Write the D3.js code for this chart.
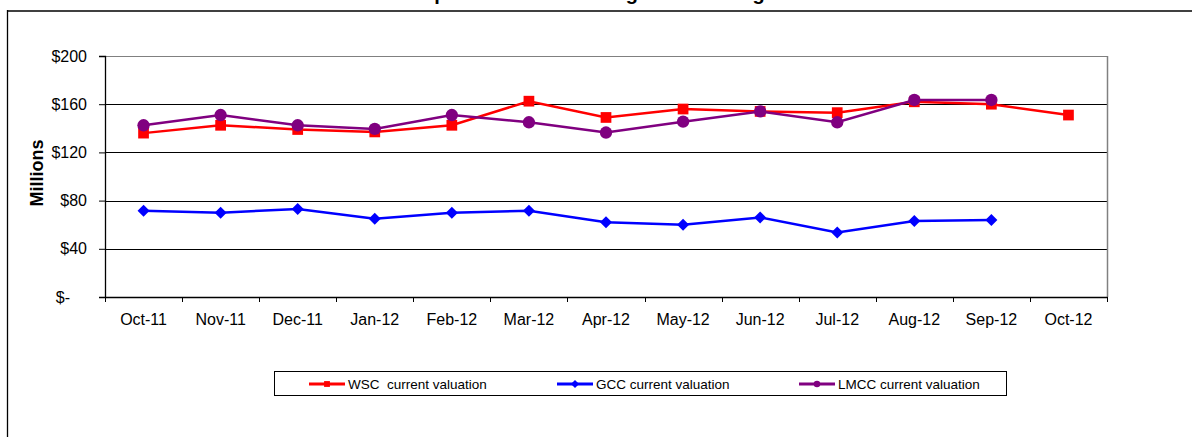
<!DOCTYPE html>
<html>
<head>
<meta charset="utf-8">
<script src="https://cdn.jsdelivr.net/npm/d3@7"></script>
<style>
  body { margin: 0; background: #fff; }
  svg { display: block; font-family: Arial, "Liberation Sans", sans-serif; }
</style>
</head>
<body>
<div id="chart"></div>
<script>
const months = ["Oct-11", "Nov-11", "Dec-11", "Jan-12", "Feb-12", "Mar-12", "Apr-12",
  "May-12", "Jun-12", "Jul-12", "Aug-12", "Sep-12", "Oct-12"];
const wscValues = [136, 142.5, 139, 137, 142.5, 162.5, 149, 156, 154, 153, 162, 160, 151];
const gccValues = [71.5, 70, 73, 65, 70, 71.5, 62, 60, 66, 53.5, 63, 64, null];
const lmccValues = [142.5, 151, 142.5, 139.5, 151, 145, 136.5, 145.5, 154, 145, 163.5, 163.5, null];
const yTicks = [0, 40, 80, 120, 160, 200];
const legendLabels = ["WSC  current valuation", "GCC current valuation", "LMCC current valuation"];

const width = 1192, height = 437;
const plot = { left: 105, right: 1107, top: 56, bottom: 297 };

const svg = d3.select("#chart").append("svg")
  .attr("width", width)
  .attr("height", height);

// title sits mostly above the visible area, only descenders show
svg.append("text")
  .attr("x", 391)
  .attr("y", -0.5)
  .style("font-size", "20px")
  .style("font-weight", "bold")
  .text("Campus Valuation Among Three Colleges");

// chart area border
svg.append("line").attr("x1", 7).attr("x2", width).attr("y1", 11).attr("y2", 11)
  .attr("stroke", "#404040").attr("stroke-width", 2);
svg.append("line").attr("x1", 7.5).attr("x2", 7.5).attr("y1", 10).attr("y2", height)
  .attr("stroke", "#000").attr("stroke-width", 1.3);

const x = d3.scaleBand().domain(months).range([plot.left, plot.right]);
const y = d3.scaleLinear().domain([0, 200]).range([plot.bottom, plot.top]);
const cx = d => x(d) + x.bandwidth() / 2;

// gridlines
svg.append("g").selectAll("line")
  .data(yTicks.filter(t => t > 0))
  .enter().append("line")
  .attr("x1", plot.left).attr("x2", plot.right)
  .attr("y1", d => Math.round(y(d)) + 0.5).attr("y2", d => Math.round(y(d)) + 0.5)
  .attr("stroke", d => d === 200 ? "#808080" : "#000")
  .attr("stroke-width", 1);

// right border of plot area
svg.append("line")
  .attr("x1", plot.right + 0.5).attr("x2", plot.right + 0.5)
  .attr("y1", y(200)).attr("y2", plot.bottom)
  .attr("stroke", "#808080").attr("stroke-width", 1.5);

// y axis
const yAxis = svg.append("g")
  .attr("transform", `translate(${plot.left},0)`)
  .call(d3.axisLeft(y).tickValues(yTicks).tickSize(6).tickPadding(12)
    .tickFormat(d => d === 0 ? "$-" : "$" + d));
yAxis.select(".domain").attr("stroke", "#000").attr("stroke-width", 1.3);
yAxis.selectAll(".tick line").attr("stroke", "#000");
yAxis.selectAll(".tick text")
  .style("font-size", "16px").attr("fill", "#000")
  .attr("dx", d => d === 0 ? -17 : 0);

svg.append("text")
  .attr("transform", `translate(43,173) rotate(-90)`)
  .attr("text-anchor", "middle")
  .style("font-size", "18px")
  .style("font-weight", "bold")
  .text("Millions");

// x axis
const xAxis = svg.append("g")
  .attr("transform", `translate(0,${plot.bottom})`)
  .call(d3.axisBottom(x).tickSize(0).tickPadding(17).tickSizeOuter(0));
xAxis.select(".domain").attr("stroke", "#000").attr("stroke-width", 1.3);
xAxis.selectAll(".tick text").style("font-size", "16px").attr("fill", "#000");

svg.append("g").selectAll("line")
  .data(months.map(m => x(m)).concat([plot.right]))
  .enter().append("line")
  .attr("x1", d => Math.round(d) + 0.5).attr("x2", d => Math.round(d) + 0.5)
  .attr("y1", plot.bottom).attr("y2", plot.bottom + 5)
  .attr("stroke", "#000");

// series
const series = [
  { name: legendLabels[0], values: wscValues, color: "#ff0000", shape: d3.symbolSquare, size: 115, rot: 0 },
  { name: legendLabels[1], values: gccValues, color: "#0000ff", shape: d3.symbolSquare, size: 72, rot: 45 },
  { name: legendLabels[2], values: lmccValues, color: "#800080", shape: d3.symbolCircle, size: 120, rot: 0 }
];

const line = d3.line()
  .defined(d => d.v != null)
  .x(d => cx(d.m))
  .y(d => y(d.v));

const drawOrder = [series[1], series[0], series[2]];
drawOrder.forEach(s => {
  const pts = months.map((m, i) => ({ m: m, v: s.values[i] }));
  svg.append("path")
    .datum(pts)
    .attr("fill", "none")
    .attr("stroke", s.color)
    .attr("stroke-width", 2.5)
    .attr("d", line);
  svg.append("g").selectAll("path")
    .data(pts.filter(d => d.v != null))
    .enter().append("path")
    .attr("transform", d => `translate(${cx(d.m)},${y(d.v)}) rotate(${s.rot})`)
    .attr("d", d3.symbol().type(s.shape).size(s.size))
    .attr("fill", s.color);
});

// legend
svg.append("rect")
  .attr("x", 274.5).attr("y", 371.5)
  .attr("width", 732).attr("height", 24)
  .attr("fill", "#fff")
  .attr("stroke", "#000").attr("stroke-width", 1);

const legendX = [309, 557, 799];
const legend = svg.selectAll(".legend")
  .data(series)
  .enter().append("g")
  .attr("class", "legend")
  .attr("transform", (d, i) => `translate(${legendX[i]},384)`);

legend.append("line")
  .attr("x1", 0).attr("x2", 36)
  .attr("stroke", d => d.color)
  .attr("stroke-width", 3);

legend.append("path")
  .attr("transform", d => `translate(18,0) rotate(${d.rot})`)
  .attr("d", d => d3.symbol().type(d.shape).size(34)())
  .attr("fill", d => d.color);

legend.append("text")
  .attr("x", 39)
  .attr("dy", ".35em")
  .style("font-size", "13.5px")
  .style("white-space", "pre")
  .text(d => d.name);
</script>
</body>
</html>
